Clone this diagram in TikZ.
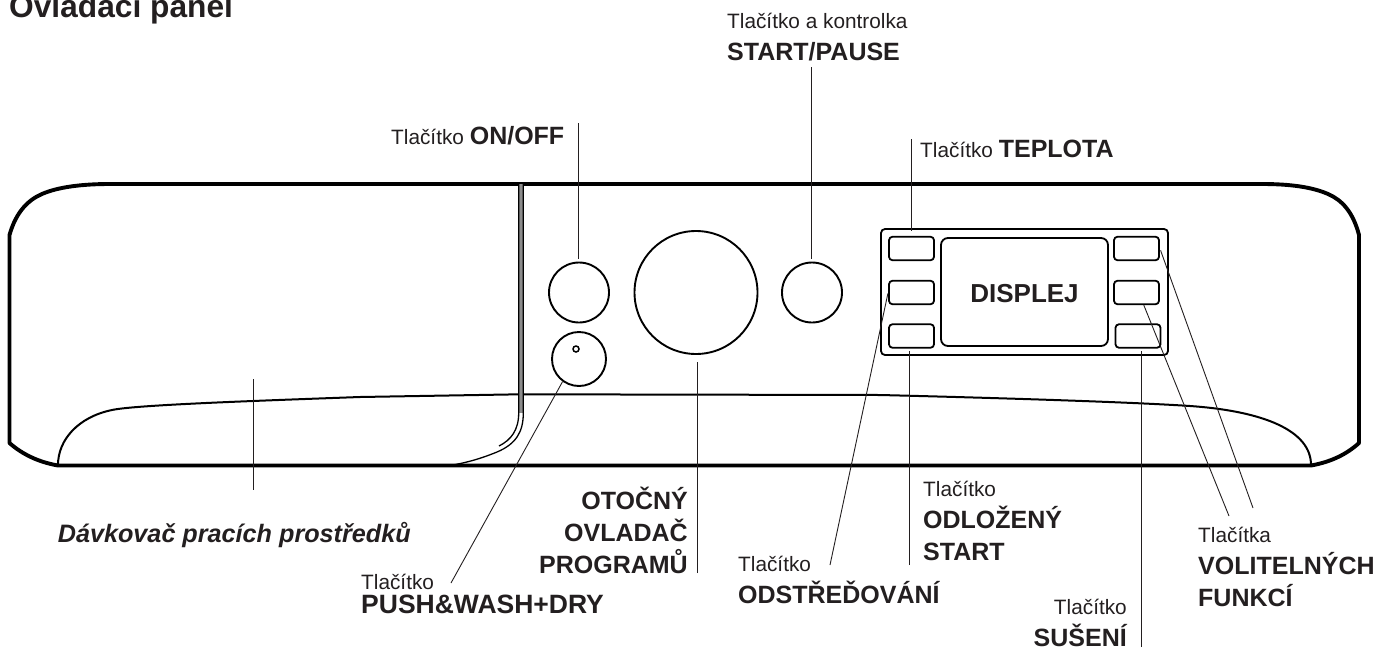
\documentclass[tikz,border=0pt]{standalone}
\usepackage{fontspec}
\setmainfont{Liberation Sans}
\usepackage{xcolor}
\usetikzlibrary{positioning,calc}
\definecolor{wmink}{HTML}{231F20}
\definecolor{wmgrey}{HTML}{8C8C8C}
\newcommand{\bigb}[1]{{\fontsize{25}{32}\selectfont\bfseries #1}}
\tikzset{
  outline/.style  = {draw=black, line width=3.9pt, line join=round},
  thinline/.style = {draw=black, line width=2pt},
  edgeline/.style = {draw=black, line width=1.3pt},
  knob/.style     = {circle, draw=black, line width=1.9pt, inner sep=0pt},
  keybtn/.style   = {draw=black, line width=1.8pt, rounded corners=3.5pt, inner sep=0pt,
                     minimum width=45pt, minimum height=23.5pt},
  screen/.style   = {draw=black, line width=1.8pt, rounded corners=7pt, inner sep=0pt,
                     minimum width=167pt, minimum height=108pt, text=wmink},
  frame/.style    = {draw=black, line width=1.8pt, rounded corners=4pt, inner sep=0pt,
                     minimum width=287pt, minimum height=126pt},
  leader/.style   = {draw=wmink, line width=0.9pt},
  lbl/.style      = {font=\fontsize{20.8}{32}\selectfont, text=wmink, inner sep=0pt},
}

\begin{document}
\begin{tikzpicture}[x=1pt,y=-1pt]
  \useasboundingbox (0,0) rectangle (1377,648);

  % ---------- panel body ----------
  \draw[outline] (58,465.5) .. controls (38,462) and (22,454) .. (9.5,443)
    -- (9.5,235) .. controls (16,212) and (28,200) .. (42,194)
    .. controls (58,187) and (82,184) .. (110,184) -- (1262,184)
    .. controls (1290,184) and (1312,187) .. (1328,194)
    .. controls (1342,200) and (1353,212) .. (1359,235)
    -- (1359,443) .. controls (1347,454) and (1331,462) .. (1311,465.5) -- cycle;
  \draw[thinline] (58,465) .. controls (58,440) and (78,417) .. (112,410)
    .. controls (135,405) and (250,401) .. (360,397) -- (520,394.3)
    -- (880,395) .. controls (1000,398) and (1130,402) .. (1190,406)
    .. controls (1262,411) and (1311,430) .. (1311,465);

  % ---------- dispenser edge ----------
  \fill[wmgrey] (519,184) rectangle (523,413);
  \draw[edgeline] (518.7,184) -- (518.7,413)
    .. controls (518.7,430) and (511,440) .. (499,446);
  \draw[edgeline] (523.3,184) -- (523.3,413)
    .. controls (523.3,432) and (516,444) .. (497,452)
    .. controls (480,459) and (465,463) .. (450,465.5);

  % ---------- knobs ----------
  \node[knob, minimum size=60pt] (onoff) at (579,292.5) {};
  \node[knob, minimum size=54pt] (push) at (579,359) {};
  \node[knob, minimum size=6pt, line width=1.5pt] (pushdot) at (576,349) {};
  \node[knob, minimum size=123pt] (dial) at (696,292.5) {};
  \node[knob, minimum size=60pt] (startb) at (812,292.5) {};

  % ---------- display block ----------
  \node[frame] (block) at (1024.5,292) {};
  \node[screen] (disp) at (1024.5,292) {\smash{\raisebox{-10.5pt}{\fontsize{26}{30}\selectfont\bfseries DISPLEJ}}};
  \node[keybtn] (tempb) at (911.5,248.5) {};
  \node[keybtn] (spinb) at (911.5,292.5) {};
  \node[keybtn] (delayb) at (911.5,336) {};
  \node[keybtn] (opta) at (1136.5,248.5) {};
  \node[keybtn] (optb) at (1136.5,292.5) {};
  \node[keybtn] (dryb) at (1138,336) {};

  % ---------- labels ----------
  \node[lbl, anchor=base west] (title) at (9,17) {\fontsize{31.7}{36}\selectfont\bfseries Ovládací panel};
  \node[lbl, anchor=base west] (lonoff) at (391,144) {Tlačítko \bigb{ON/OFF}};
  \node[lbl, anchor=base west, align=left] (lstart) at (727,60) {Tlačítko a kontrolka\\ \bigb{START/PAUSE}};
  \node[lbl, anchor=base west] (ltemp) at (920,157) {Tlačítko \bigb{TEPLOTA}};
  \node[lbl, anchor=base east] (ldisp) at (411,542)
    {\fontsize{25.2}{32}\selectfont\bfseries\itshape Dávkovač pracích prostředků};
  \node[lbl, anchor=base west, align=left] (lpush) at (361,613)
    {Tlačítko\\[-8pt]{\fontsize{26.5}{32}\selectfont\bfseries PUSH\&WASH+DRY}};
  \node[lbl, anchor=base east, align=right] (ldial) at (688,573)
    {\bigb{OTOČNÝ}\\ \bigb{OVLADAČ}\\ \bigb{PROGRAMŮ}};
  \node[lbl, anchor=base west, align=left] (lspin) at (738,603) {Tlačítko\\ \bigb{ODSTŘEĎOVÁNÍ}};
  \node[lbl, anchor=base west, align=left] (ldelay) at (923,560)
    {Tlačítko\\ \bigb{ODLOŽENÝ}\\ \bigb{START}};
  \node[lbl, anchor=base east, align=right] (ldry) at (1127,646) {Tlačítko\\ \bigb{SUŠENÍ}};
  \node[lbl, anchor=base west, align=left] (lopt) at (1198,606)
    {Tlačítka\\ \bigb{VOLITELNÝCH}\\ \bigb{FUNKCÍ}};

  % ---------- free ends of the leaders ----------
  \coordinate (conoff) at (578,123);
  \coordinate (cstart) at (811,67);
  \coordinate (ctemp) at (911,139);
  \coordinate (cdose) at (253,379);
  \coordinate (cdosee) at (253,490);
  \coordinate (cdial) at (697,573);
  \coordinate (cpush) at (451,583);
  \coordinate (cspin) at (830,565);
  \coordinate (cdelay) at (909,565);
  \coordinate (cdry) at (1141,647);
  \coordinate (copta) at (1253,508);
  \coordinate (coptb) at (1229,516);

  % ---------- leaders ----------
  \draw[leader, shorten >=3pt] (conoff) -- (conoff |- onoff.north);
  \draw[leader, shorten >=3pt] (cstart) -- (cstart |- startb.north);
  \draw[leader, shorten >=5pt] (ctemp) -- (ctemp |- tempb.north);
  \draw[leader] (cdose) -- (cdosee);
  \draw[leader, shorten >=7pt] (cdial) -- (cdial |- dial.south);
  \draw[leader] (cpush) -- (push.234);
  \draw[leader, shorten >=1pt] (cspin) -- (spinb.west);
  \draw[leader, shorten >=2pt] (cdelay) -- (cdelay |- delayb.south);
  \draw[leader, shorten >=2pt] (cdry) -- (cdry |- dryb.south);
  \draw[leader, shorten >=2pt] (copta) -- (opta.east);
  \draw[leader] (coptb) -- (optb.-60);

\end{tikzpicture}
\end{document}
